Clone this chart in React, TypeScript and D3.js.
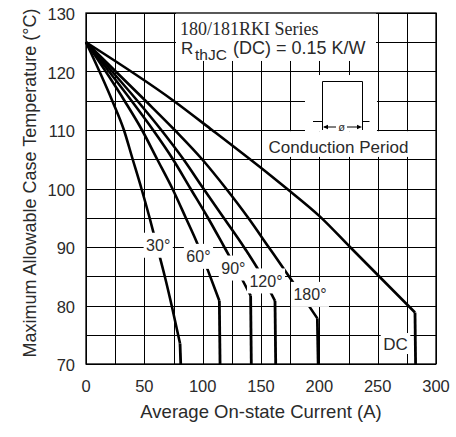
import React from "react";
import * as d3 from "d3";

// rating curves
const xTicks = [0, 50, 100, 150, 200, 250, 300];
const yTicks = [70, 80, 90, 100, 110, 120, 130];

const amps30 = [0, 22.5, 32.5, 40, 47.5, 54.5, 61, 67.5, 74, 80.6];
const temp30 = [125, 115, 110, 105, 100, 95, 90, 85, 79.5, 73.5];
const amps60 = [0, 33, 48, 61, 74, 85.5, 95.4, 104.5, 114.3];
const temp60 = [125, 115, 110, 105, 100, 95, 90.6, 86, 80.8];
const amps90 = [0, 39, 57.5, 74.5, 89.5, 104.5, 118.5, 134, 141.1];
const temp90 = [125, 115, 110, 105, 100, 95, 90, 84.4, 81.7];
const amps120 = [0, 44, 64.5, 83.5, 100.6, 118, 136, 149.5, 162];
const temp120 = [125, 115, 110, 105, 100, 95, 89.8, 85.5, 80.8];
const amps180 = [0, 51, 76, 99.5, 120, 139, 156.5, 177, 198.3];
const temp180 = [125, 115, 110, 105, 100, 95, 90, 84.1, 77.8];
const ampsDC = [0, 75, 108, 157.7, 172, 200.6, 226.3, 282];
const tempDC = [125, 115, 110, 102.3, 100, 95.2, 90, 78.8];

// current where each curve drops straight to the bottom
const dropAmps = [81.2, 114.9, 141.7, 162.6, 199, 282.5];

const seriesNames = ["30°", "60°", "90°", "120°", "180°", "DC"];
const seriesAmps = [amps30, amps60, amps90, amps120, amps180, ampsDC];
const seriesTemps = [temp30, temp60, temp90, temp120, temp180, tempDC];

// label anchors in data units
const labelAmps = [61.9, 96.4, 126.3, 154.3, 192, 265.3];
const labelTemps = [90.3, 88.4, 86.4, 84.2, 81.9, 73.5];

const sans = "'Liberation Sans', Arial, sans-serif";
const serif = "'Liberation Serif', 'Times New Roman', serif";
const ink = "#2a2a2a";

const W = 456;
const H = 437;
const plot = { left: 86, top: 13, right: 436, bottom: 364 };

const crisp = (v: number) => Math.round(v) + 0.5;

export default function App() {
  const x = d3.scaleLinear().domain([0, 300]).range([plot.left, plot.right]);
  const y = d3.scaleLinear().domain([70, 130]).range([plot.bottom, plot.top]);

  const xGrid = d3.range(0, 301, 25);
  const yGrid = d3.range(70, 131, 5);

  const line = d3
    .line<[number, number]>()
    .x((d) => x(d[0]))
    .y((d) => y(d[1]))
    .curve(d3.curveMonotoneX);

  const charW = (s: string, fs: number) =>
    s.split("").reduce((w, c) => w + (c === "°" ? 0.4 : c === "D" || c === "C" ? 0.722 : 0.556), 0) * fs;

  return (
    <svg
      width={W}
      height={H}
      style={{ position: "absolute", left: 0, top: 0, background: "white" }}
    >
      <rect x={0} y={0} width={W} height={H} fill="white" />

      {/* grid */}
      {xGrid.map((v) => (
        <line key={`gx${v}`} x1={crisp(x(v))} x2={crisp(x(v))} y1={plot.top} y2={plot.bottom} stroke="#000" strokeWidth={1} />
      ))}
      {yGrid.map((v) => (
        <line key={`gy${v}`} x1={plot.left} x2={plot.right} y1={crisp(y(v))} y2={crisp(y(v))} stroke="#000" strokeWidth={1} />
      ))}

      {/* white panels under the annotations */}
      <rect x={x(77.1)} y={y(130)} width={x(248.6) - x(77.1)} height={y(121.8) - y(130)} fill="white" />
      <rect x={x(187.7)} y={y(119.4)} width={x(249.4) - x(187.7)} height={y(109.8) - y(119.4)} fill="white" />
      <rect x={x(154.3)} y={y(109.8)} width={x(282) - x(154.3)} height={y(105.4) - y(109.8)} fill="white" />

      {/* curves */}
      {seriesNames.map((name, i) => {
        const pts: [number, number][] = seriesAmps[i].map((a, j) => [a, seriesTemps[i][j]]);
        const last = pts[pts.length - 1];
        return (
          <g key={name}>
            <path d={line(pts) ?? ""} fill="none" stroke="#000" strokeWidth={2.6} strokeLinejoin="round" />
            <line
              x1={x(last[0])}
              y1={y(last[1])}
              x2={x(dropAmps[i])}
              y2={y(70)}
              stroke="#000"
              strokeWidth={2.8}
            />
          </g>
        );
      })}

      {/* curve labels */}
      {seriesNames.map((name, i) => {
        const fs = name === "DC" ? 17 : 16;
        const w = charW(name, fs) + 5;
        const h = name === "DC" ? 21 : 25;
        const cx = x(labelAmps[i]);
        const cy = y(labelTemps[i]);
        return (
          <g key={`lab${name}`}>
            <rect x={cx - w / 2} y={cy - h / 2} width={w} height={h} fill="white" />
            <text
              x={cx}
              y={cy}
              dy="0.36em"
              textAnchor="middle"
              fontFamily={sans}
              fontSize={fs}
              fill={ink}
            >
              {name}
            </text>
          </g>
        );
      })}

      {/* frame */}
      <rect
        x={plot.left}
        y={plot.top}
        width={plot.right - plot.left}
        height={plot.bottom - plot.top}
        fill="none"
        stroke="#000"
        strokeWidth={1.3}
      />

      {/* header */}
      <text x={180} y={35} fontFamily={serif} fontSize={18} fill={ink}>
        180/181RKI Series
      </text>
      <text x={181} y={53.5} fontFamily={sans} fontSize={17} fill={ink}>
        R
      </text>
      <text x={195} y={60} fontFamily={sans} fontSize={15.5} fill={ink}>
        thJC
      </text>
      <text x={233} y={54} fontFamily={sans} fontSize={18} fill={ink}>
        (DC) = 0.15 K/W
      </text>

      {/* conduction period sketch */}
      <g stroke="#000" strokeWidth={1} fill="none">
        <path d="M322.5,130 V81.5 H362.5 V130" />
        <line x1={313} x2={322} y1={121.5} y2={121.5} />
        <line x1={362} x2={369.5} y1={121.5} y2={121.5} />
        <line x1={324} x2={336} y1={127} y2={127} />
        <line x1={347} x2={360} y1={127} y2={127} />
      </g>
      <path d="M323,127 l5,-2.2 v4.4 z" fill="#000" />
      <path d="M362,127 l-5,-2.2 v4.4 z" fill="#000" />
      <text x={341.7} y={131} textAnchor="middle" fontFamily={sans} fontSize={11} fill={ink}>
        ø
      </text>
      <text x={268.5} y={153.3} fontFamily={sans} fontSize={17} fill={ink}>
        Conduction Period
      </text>

      {/* axes labels */}
      {xTicks.map((v) => (
        <text key={`xt${v}`} x={x(v)} y={391.7} textAnchor="middle" fontFamily={sans} fontSize={16.5} fill={ink}>
          {v}
        </text>
      ))}
      {yTicks.map((v) => (
        <text
          key={`yt${v}`}
          x={75}
          y={y(v) + 1.5}
          dy="0.36em"
          textAnchor="end"
          fontFamily={sans}
          fontSize={16.5}
          fill={ink}
        >
          {v}
        </text>
      ))}
      <text x={261} y={418} textAnchor="middle" fontFamily={sans} fontSize={18.5} fill={ink}>
        Average On-state Current (A)
      </text>
      <text
        transform={`translate(36,183) rotate(-90)`}
        textAnchor="middle"
        fontFamily={sans}
        fontSize={18}
        fill={ink}
      >
        Maximum Allowable Case Temperature (°C)
      </text>
    </svg>
  );
}
